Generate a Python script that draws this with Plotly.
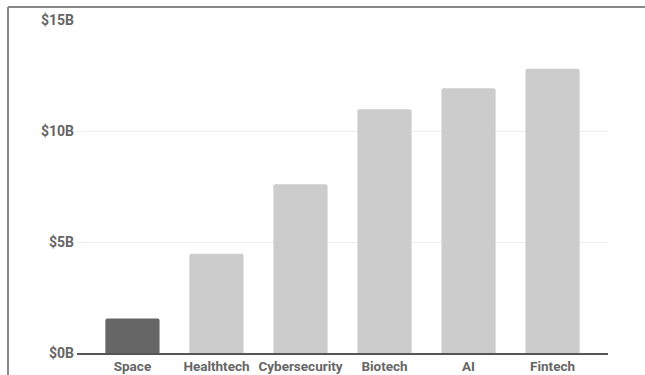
import plotly.graph_objects as go

categories = ["Space", "Healthtech", "Cybersecurity", "Biotech", "AI", "Fintech"]
values = [1.55, 4.47, 7.6, 10.98, 11.93, 12.8]
colors = ["#666666", "#cccccc", "#cccccc", "#cccccc", "#cccccc", "#cccccc"]
tick_vals = [0, 5, 10, 15]
tick_text = ["$0B", "$5B", "$10B", "$15B"]

fig = go.Figure(go.Bar(
    x=categories, y=values,
    marker=dict(color=colors, line=dict(width=0), cornerradius=2),
    width=0.645,
))

font_family = "Roboto"
fig.update_layout(
    width=645, height=375,
    margin=dict(l=77, r=37, t=20, b=22),
    paper_bgcolor="white", plot_bgcolor="white",
    showlegend=False,
    font=dict(family=font_family, size=14, color="#666666"),
    xaxis=dict(
        range=[-0.66, 5.66],
        automargin=False,
        showgrid=False,
        showline=True, linecolor="#555555", linewidth=1.5,
        ticks="",
        ticklabelstandoff=0,
        tickfont=dict(family=font_family, size=13.5, color="#666666", weight="bold"),
    ),
    yaxis=dict(
        range=[0, 15],
        automargin=False,
        tickvals=tick_vals, ticktext=tick_text,
        showgrid=True, gridcolor="#eeeeee", gridwidth=1,
        zeroline=False, showline=False, ticks="",
        ticklabelstandoff=2,
        tickfont=dict(family=font_family, size=14, color="#666666", weight="bold"),
    ),
    shapes=[
        dict(type="line", xref="paper", yref="paper",
             x0=(8 - 77) / 531, x1=(645 - 77) / 531 + 0.01,
             y0=(353 - 7) / 333, y1=(353 - 7) / 333,
             line=dict(color="#888888", width=2)),
        dict(type="line", xref="paper", yref="paper",
             x0=(8 - 77) / 531, x1=(8 - 77) / 531,
             y0=(353 - 7) / 333, y1=-0.2,
             line=dict(color="#888888", width=2)),
    ],
)

fig.write_html("out.html")
